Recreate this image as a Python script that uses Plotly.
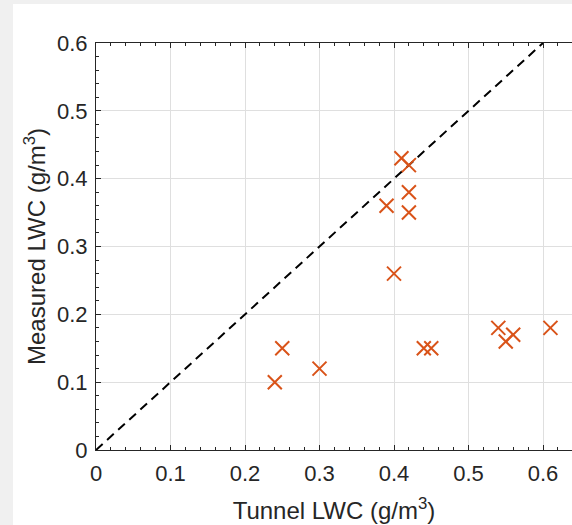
import plotly.graph_objects as go

tunnel_lwc = [0.24, 0.25, 0.30, 0.39, 0.40, 0.41, 0.42, 0.42, 0.42, 0.44, 0.45, 0.54, 0.55, 0.56, 0.61]
measured_lwc = [0.10, 0.15, 0.12, 0.36, 0.26, 0.43, 0.42, 0.38, 0.35, 0.15, 0.15, 0.18, 0.16, 0.17, 0.18]
ref_line = [0, 0.6]
x_ticks = [0, 0.1, 0.2, 0.3, 0.4, 0.5, 0.6]
y_ticks = [0, 0.1, 0.2, 0.3, 0.4, 0.5, 0.6]

W, H = 572, 525
L, R, T, B = 96, 0, 43, 75
pw, ph = W - L - R, H - T - B

def px(x):
    return (x - L) / pw

def py(y):
    return (H - B - y) / ph

FONT = "Liberation Sans, Arial, Helvetica, sans-serif"
TXT = "#262626"

fig = go.Figure()
fig.add_trace(go.Scatter(x=ref_line, y=ref_line, mode="lines",
                         line=dict(color="black", width=2, dash="9px,6px"),
                         showlegend=False, hoverinfo="skip"))
fig.add_trace(go.Scatter(x=tunnel_lwc, y=measured_lwc, mode="markers",
                         marker=dict(symbol="x-thin", size=14, color="#D95319",
                                     line=dict(color="#D95319", width=2)),
                         showlegend=False))

axis_common = dict(
    showgrid=True, gridcolor="#dfdfdf", gridwidth=1,
    zeroline=False, showline=True, linecolor=TXT, linewidth=1,
    ticks="inside", ticklen=5, tickcolor=TXT, tickwidth=1,
    tickfont=dict(family=FONT, size=22, color=TXT),
    minor=dict(ticks="inside", ticklen=3, dtick=0.02, tickcolor=TXT, showgrid=False),
)

fig.update_layout(
    width=W, height=H,
    margin=dict(l=L, r=R, t=T, b=B),
    paper_bgcolor="white", plot_bgcolor="white",
    font=dict(family=FONT, color=TXT),
    xaxis=dict(range=[0, (W - L) / 745.0], tickvals=x_ticks,
               ticktext=[("%g" % v) for v in x_ticks], mirror="ticks",
               ticklabelstandoff=4,
               title=dict(text="Tunnel LWC (g/m<sup>3</sup>)",
                          font=dict(family=FONT, size=24, color=TXT), standoff=16),
               **axis_common),
    yaxis=dict(range=[0, 0.6], tickvals=y_ticks,
               ticktext=[("%g" % v) for v in y_ticks],
               ticklabelstandoff=3,
               title=dict(text="Measured LWC (g/m<sup>3</sup>)",
                          font=dict(family=FONT, size=24, color=TXT), standoff=4),
               **axis_common),
    shapes=[
        dict(type="rect", xref="paper", yref="paper", layer="below",
             x0=px(0), x1=px(13), y0=py(H), y1=py(0),
             fillcolor="#f0f0f0", line=dict(width=0)),
        dict(type="rect", xref="paper", yref="paper", layer="below",
             x0=px(0), x1=px(W), y0=py(4), y1=py(0),
             fillcolor="#f0f0f0", line=dict(width=0)),
    ],
)

fig.write_html("out.html")
